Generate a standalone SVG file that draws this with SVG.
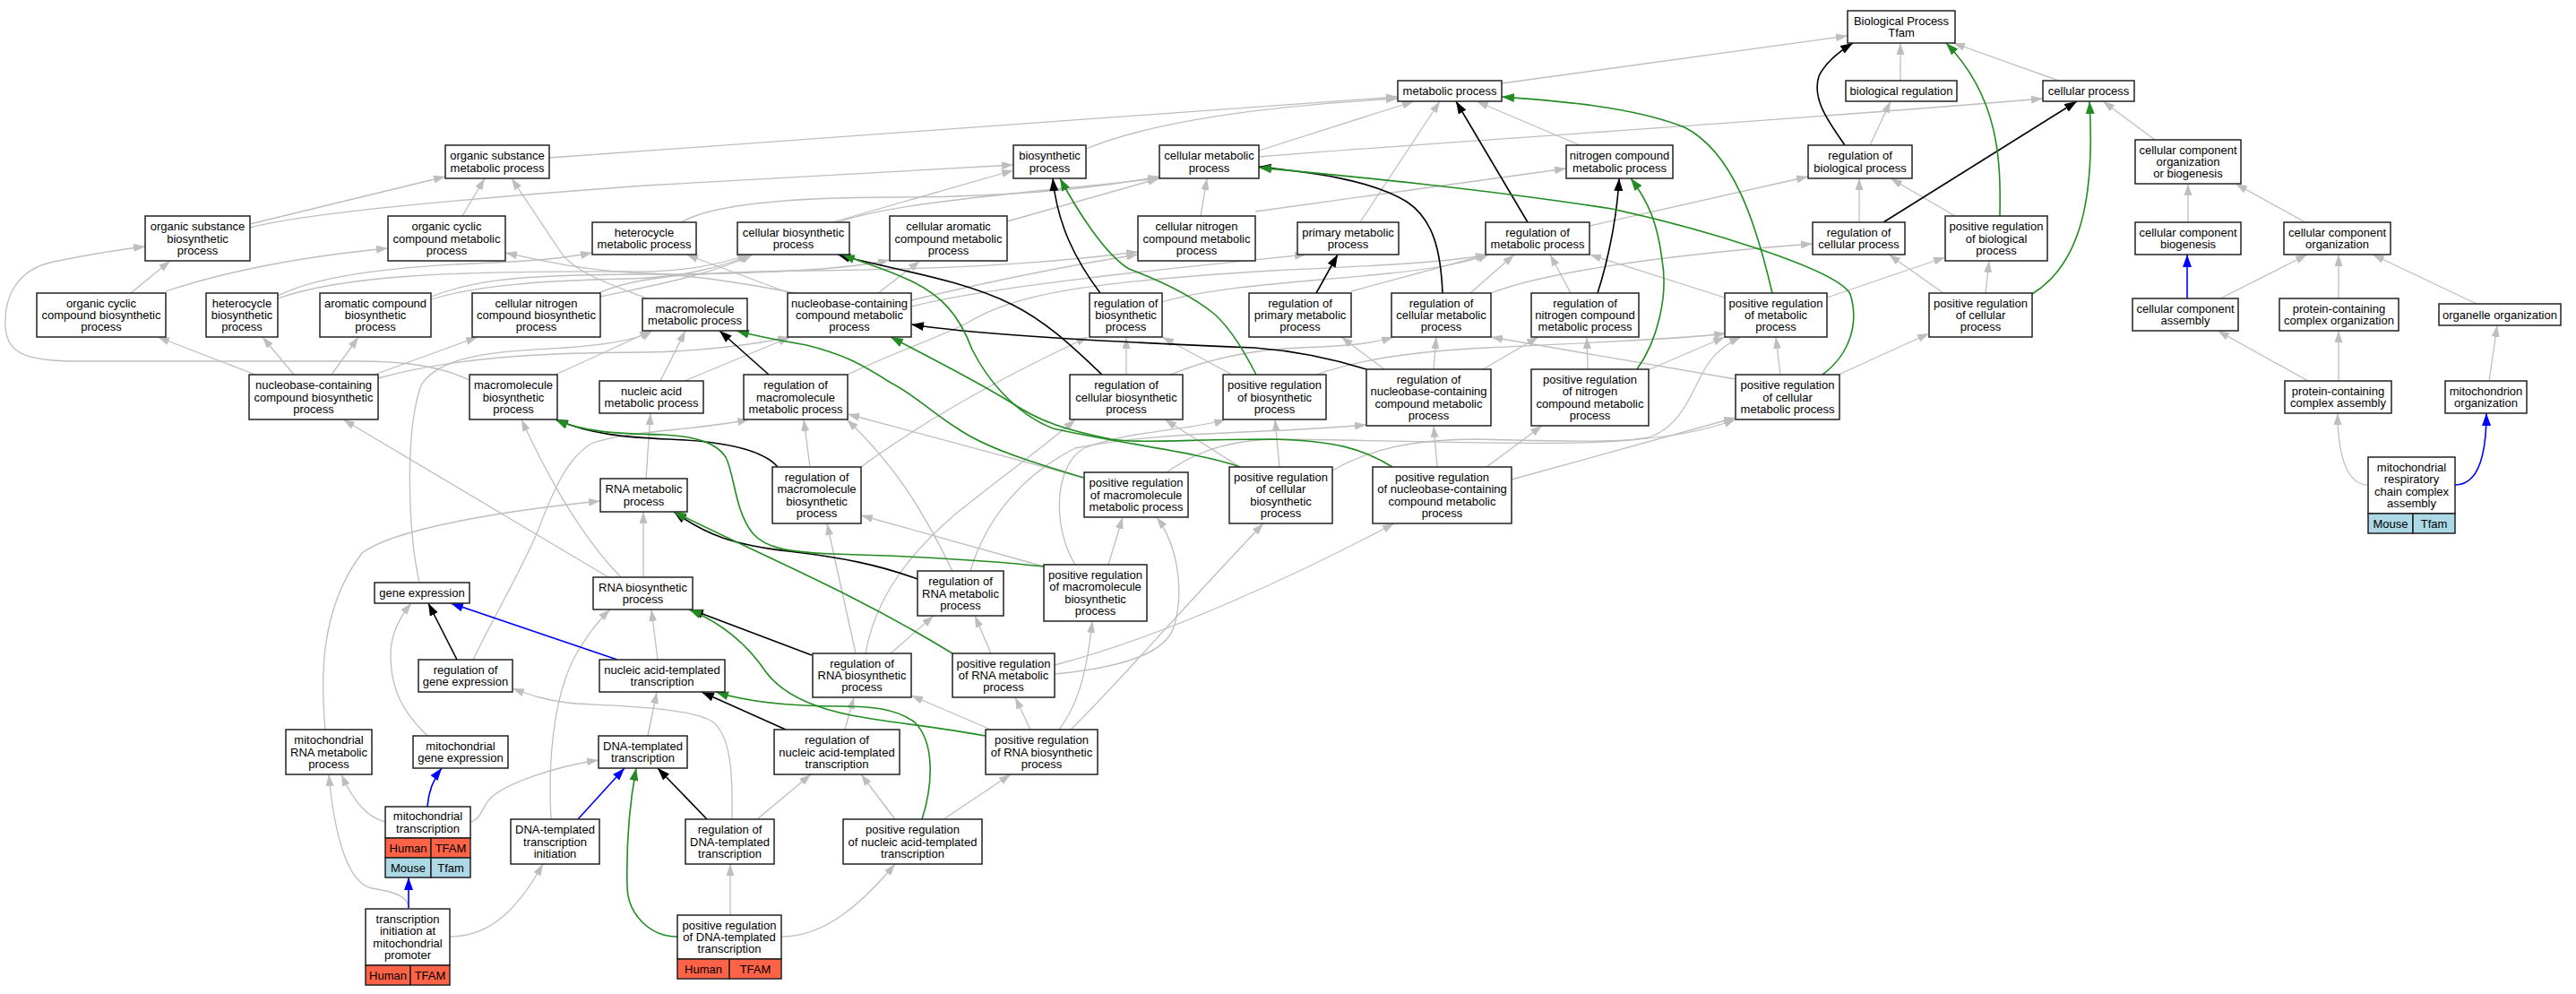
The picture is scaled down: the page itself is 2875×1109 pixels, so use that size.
<svg xmlns="http://www.w3.org/2000/svg" width="2875" height="1109" viewBox="0 0 2875 1109">
<style>
.node rect{fill:#fff;stroke:#222;stroke-width:1.5}
.node rect.hu{fill:#FF6347}
.node rect.mo{fill:#ADD8E6}
.node text{font-family:"Liberation Sans",Arial,Helvetica,sans-serif;font-size:13px;fill:#000;text-anchor:middle}
.e{fill:none}
.g{stroke:#BEBEBE;stroke-width:1.3;marker-end:url(#mg)}
.k{stroke:#000;stroke-width:1.6;marker-end:url(#mk)}
.gr{stroke:#228B22;stroke-width:1.6;marker-end:url(#mgr)}
.b{stroke:#0000FF;stroke-width:1.6;marker-end:url(#mb)}
</style>
<defs>
<marker id="mg" viewBox="0 0 13 9" refX="13" refY="4.5" markerWidth="13" markerHeight="9" markerUnits="userSpaceOnUse" orient="auto"><path d="M0,0L13,4.5L0,9z" fill="#BEBEBE"/></marker>
<marker id="mk" viewBox="0 0 14 10" refX="14" refY="5" markerWidth="14" markerHeight="10" markerUnits="userSpaceOnUse" orient="auto"><path d="M0,0L14,5L0,10z" fill="#000"/></marker>
<marker id="mgr" viewBox="0 0 14 10" refX="14" refY="5" markerWidth="14" markerHeight="10" markerUnits="userSpaceOnUse" orient="auto"><path d="M0,0L14,5L0,10z" fill="#228B22"/></marker>
<marker id="mb" viewBox="0 0 14 10" refX="14" refY="5" markerWidth="14" markerHeight="10" markerUnits="userSpaceOnUse" orient="auto"><path d="M0,0L14,5L0,10z" fill="#0000FF"/></marker>
</defs>
<rect width="2875" height="1109" fill="#fff"/>
<g id="edges" class="e">
<path class="g" d="M1676,93 L2062,40"/>
<path class="g" d="M2121,90 L2121,48"/>
<path class="g" d="M2298,90 L2180,48"/>
<path class="g" d="M2087,162 L2110,113"/>
<path class="g" d="M2405,156 L2347,113"/>
<path class="g" d="M1405,175 C1650,155 1950,138 2280,110"/>
<path class="g" d="M613,176 L1560,108"/>
<path class="g" d="M1212,166 C1300,130 1450,116 1560,110"/>
<path class="g" d="M1405,168 L1578,113"/>
<path class="g" d="M1518,248 L1607,113"/>
<path class="g" d="M1763,162 L1648,113"/>
<path class="g" d="M279,250 L497,197"/>
<path class="g" d="M279,254 Q350,234 720,207 L1131,184"/>
<path class="g" d="M516,241 L541,199"/>
<path class="g" d="M722,333 C690,320 640,305 625,280 L571,199"/>
<path class="g" d="M146,327 L190,291"/>
<path class="g" d="M185,325 C260,300 350,285 433,277"/>
<path class="g" d="M524,424 C490,408 450,403 400,403 L80,403 C30,402 8,395 6,365 C4,330 20,300 60,292 C100,284 135,278 162,275"/>
<path class="g" d="M285,418 L176,376"/>
<path class="g" d="M328,418 L293,376"/>
<path class="g" d="M370,418 L400,376"/>
<path class="g" d="M418,418 L533,376"/>
<path class="g" d="M422,422 C500,400 600,393 720,393 C780,392 840,385 881,376"/>
<path class="g" d="M310,330 C360,305 450,297 550,293 C600,291 630,288 661,282"/>
<path class="g" d="M310,333 C380,308 500,302 700,303 C760,304 800,296 836,284"/>
<path class="g" d="M481,331 C520,316 560,306 720,306 C850,306 950,300 993,290"/>
<path class="g" d="M481,334 C530,319 600,313 700,311 C760,310 810,297 838,284"/>
<path class="g" d="M668,327 C700,313 740,304 900,302 C1100,300 1200,290 1270,281"/>
<path class="g" d="M670,331 C730,318 790,308 840,284"/>
<path class="g" d="M881,327 L766,284"/>
<path class="g" d="M888,327 C820,314 760,306 720,305 C660,303 610,292 564,282"/>
<path class="g" d="M980,327 L1027,291"/>
<path class="g" d="M1017,335 C1100,315 1200,295 1270,284"/>
<path class="g" d="M1017,342 C1100,320 1300,300 1458,284"/>
<path class="g" d="M760,248 C800,225 900,220 1000,220 C1150,220 1250,205 1294,197"/>
<path class="g" d="M929,248 L1131,190"/>
<path class="g" d="M935,248 C1000,225 1150,215 1294,199"/>
<path class="g" d="M1124,247 L1294,199"/>
<path class="g" d="M1340,241 L1347,199"/>
<path class="g" d="M1401,236 L1748,188"/>
<path class="g" d="M620,418 L727,369"/>
<path class="g" d="M468,650 C455,590 452,480 470,430 C490,395 560,392 630,388 C690,384 715,377 728,369"/>
<path class="g" d="M737,425 L765,369"/>
<path class="g" d="M764,425 L882,376"/>
<path class="g" d="M721,534 L726,461"/>
<path class="g" d="M718,644 L718,571"/>
<path class="g" d="M679,644 L383,468"/>
<path class="g" d="M693,644 C650,600 615,540 582,468"/>
<path class="g" d="M363,814 C358,760 356,680 404,617 C440,590 560,570 670,559"/>
<path class="g" d="M477,821 C450,795 436,770 436,730 C436,710 445,690 459,673"/>
<path class="g" d="M430,917 C410,912 395,895 381,864"/>
<path class="g" d="M456,1013 C456,1000 440,995 415,991 C385,985 372,920 367,864"/>
<path class="g" d="M525,917 C535,915 537,905 545,893 C560,875 620,855 668,848"/>
<path class="g" d="M502,1045 C550,1045 580,1010 606,964"/>
<path class="g" d="M615,914 C612,860 615,780 643,730 C655,710 665,695 681,680"/>
<path class="g" d="M734,736 L727,680"/>
<path class="g" d="M723,821 L733,772"/>
<path class="g" d="M528,736 C550,690 580,640 600,593 C620,540 635,510 660,495 C700,480 780,480 836,468"/>
<path class="g" d="M817,914 C818,860 815,820 795,805 C770,790 700,788 643,785 C610,782 590,775 572,768"/>
<path class="g" d="M943,814 L953,778"/>
<path class="g" d="M845,914 L905,864"/>
<path class="g" d="M999,914 L961,864"/>
<path class="g" d="M1053,914 L1128,864"/>
<path class="g" d="M815,1021 L815,964"/>
<path class="g" d="M872,1045 C920,1045 960,1010 999,964"/>
<path class="g" d="M1106,814 L1017,776"/>
<path class="g" d="M1150,814 L1133,778"/>
<path class="g" d="M1182,814 C1200,790 1212,760 1219,693"/>
<path class="g" d="M1195,814 C1250,760 1300,700 1410,584"/>
<path class="g" d="M1106,729 L1088,687"/>
<path class="g" d="M1177,742 C1300,710 1450,640 1556,584"/>
<path class="g" d="M1177,752 C1250,745 1300,730 1310,700 C1322,660 1315,610 1291,577"/>
<path class="g" d="M1237,630 L1253,577"/>
<path class="g" d="M1165,632 L961,575"/>
<path class="g" d="M1200,630 C1175,590 1175,520 1210,500 C1260,480 1330,480 1368,468"/>
<path class="g" d="M1083,637 C1100,580 1140,530 1200,500 C1300,480 1400,485 1525,474"/>
<path class="g" d="M1063,637 C1030,570 1000,520 945,468"/>
<path class="g" d="M994,729 L1042,687"/>
<path class="g" d="M966,729 C975,680 1000,630 1067,573 C1120,530 1170,495 1200,468"/>
<path class="g" d="M955,729 L923,584"/>
<path class="g" d="M904,521 L897,468"/>
<path class="g" d="M961,521 C1030,470 1120,420 1214,376"/>
<path class="g" d="M946,418 C1000,392 1040,380 1080,360 C1130,330 1200,315 1420,302 C1550,296 1620,292 1660,284"/>
<path class="g" d="M1297,337 C1350,320 1450,315 1550,305 C1600,300 1640,292 1662,284"/>
<path class="g" d="M1257,418 L1257,376"/>
<path class="g" d="M1306,418 C1350,400 1400,390 1450,388 C1500,386 1530,384 1555,376"/>
<path class="g" d="M1375,418 L1297,376"/>
<path class="g" d="M1469,418 C1520,400 1580,392 1660,388 C1780,382 1880,378 1926,372"/>
<path class="g" d="M1428,521 L1423,468"/>
<path class="g" d="M1384,521 L1300,468"/>
<path class="g" d="M1487,525 C1530,500 1580,490 1650,490 C1750,492 1850,500 1937,468"/>
<path class="g" d="M1210,533 L946,462"/>
<path class="g" d="M1302,527 C1340,500 1380,490 1430,490 C1600,492 1780,500 1840,488 C1880,475 1890,430 1905,408 C1915,392 1930,382 1943,376"/>
<path class="g" d="M1937,423 L1664,376"/>
<path class="g" d="M1987,418 L1982,376"/>
<path class="g" d="M2052,418 L2153,372"/>
<path class="g" d="M2169,327 L2108,284"/>
<path class="g" d="M2216,327 L2220,291"/>
<path class="g" d="M1925,332 L1774,284"/>
<path class="g" d="M2039,332 L2171,287"/>
<path class="g" d="M2182,241 L2110,199"/>
<path class="g" d="M2075,248 L2075,199"/>
<path class="g" d="M1774,252 L2018,197"/>
<path class="g" d="M1641,327 L1690,284"/>
<path class="g" d="M1664,327 C1720,305 1850,285 2023,272"/>
<path class="g" d="M1753,327 L1730,284"/>
<path class="g" d="M1508,325 L1660,284"/>
<path class="g" d="M1545,412 L1497,376"/>
<path class="g" d="M1600,412 L1603,376"/>
<path class="g" d="M1655,412 L1717,376"/>
<path class="g" d="M1772,412 L1771,376"/>
<path class="g" d="M1839,413 L1925,376"/>
<path class="g" d="M1604,521 L1600,475"/>
<path class="g" d="M1659,521 L1721,475"/>
<path class="g" d="M1687,535 L1937,466"/>
<path class="g" d="M2442,248 L2442,205"/>
<path class="g" d="M2573,248 L2495,205"/>
<path class="g" d="M2478,333 L2575,284"/>
<path class="g" d="M2610,333 L2610,284"/>
<path class="g" d="M2764,339 L2648,284"/>
<path class="g" d="M2576,425 L2475,369"/>
<path class="g" d="M2610,425 L2610,369"/>
<path class="g" d="M2778,425 L2787,363"/>
<path class="g" d="M2643,541 C2620,541 2609,510 2609,461"/>
<path class="k" d="M2059,162 C2040,135 2022,110 2030,85 C2038,68 2055,56 2068,48"/>
<path class="k" d="M2102,248 L2318,113"/>
<path class="k" d="M1705,248 L1625,113"/>
<path class="k" d="M1610,327 C1608,280 1600,245 1570,225 C1530,200 1460,192 1405,186"/>
<path class="k" d="M1783,327 C1795,290 1805,240 1807,199"/>
<path class="k" d="M1469,327 L1493,284"/>
<path class="k" d="M1228,327 C1200,290 1180,250 1175,199"/>
<path class="k" d="M1230,418 C1200,390 1170,360 1130,340 C1070,310 990,300 935,284"/>
<path class="k" d="M1525,412 C1480,398 1440,391 1400,388 C1200,380 1080,372 1017,362"/>
<path class="k" d="M858,418 L803,369"/>
<path class="k" d="M868,521 C850,500 800,492 746,490 C700,488 660,485 620,468"/>
<path class="k" d="M1024,646 C980,630 940,622 880,615 C820,608 790,598 752,571"/>
<path class="k" d="M906,731 L771,680"/>
<path class="k" d="M510,736 L478,673"/>
<path class="k" d="M877,814 L783,772"/>
<path class="k" d="M789,914 L734,857"/>
<path class="gr" d="M2232,241 C2233,180 2232,110 2172,48"/>
<path class="gr" d="M2268,328 C2330,290 2337,200 2332,113"/>
<path class="gr" d="M1978,327 C1960,250 1935,170 1880,142 C1820,118 1730,112 1676,108"/>
<path class="gr" d="M2034,418 C2065,395 2075,360 2065,328 C2050,300 1900,255 1799,233 C1650,210 1500,196 1405,187"/>
<path class="gr" d="M1827,412 C1850,380 1862,330 1855,290 C1850,250 1840,225 1820,199"/>
<path class="gr" d="M1402,418 C1390,395 1375,368 1355,350 C1330,330 1300,315 1260,300 C1235,285 1205,240 1183,199"/>
<path class="gr" d="M1384,521 C1340,505 1250,495 1175,478 C1130,460 1100,420 1085,390 C1070,350 1050,330 1020,315 C990,300 960,292 940,284"/>
<path class="gr" d="M1554,521 C1520,500 1490,492 1420,490 C1330,490 1270,495 1240,490 C1190,480 1160,470 1130,450 C1090,425 1040,400 994,376"/>
<path class="gr" d="M1209,533 C1150,515 1100,500 1067,477 C1040,460 1020,440 994,427 C960,405 940,395 900,385 C860,378 840,374 822,369"/>
<path class="gr" d="M1165,632 C1100,625 1000,620 929,618 C880,616 855,612 840,595 C820,570 820,530 810,510 C800,495 780,487 740,485 C690,484 650,482 620,468"/>
<path class="gr" d="M1063,729 C950,660 850,620 752,571"/>
<path class="gr" d="M1100,821 C1040,810 990,806 950,798 C900,788 870,770 855,750 C835,720 805,695 769,680"/>
<path class="gr" d="M1029,914 C1040,880 1045,830 1021,806 C1000,790 970,788 940,788 C880,788 830,782 799,772"/>
<path class="gr" d="M756,1045 C725,1045 701,1020 700,990 C699,950 702,900 710,857"/>
<path class="b" d="M689,736 L503,673"/>
<path class="b" d="M477,900 C478,885 483,870 493,857"/>
<path class="b" d="M456,1013 L456,979"/>
<path class="b" d="M645,914 L697,857"/>
<path class="b" d="M2441,333 L2441,284"/>
<path class="b" d="M2740,541 C2765,541 2775,510 2775,461"/>
</g>
<g id="n-BP" class="node"><rect x="2062" y="12" width="120" height="36"/><text x="2122" y="27.9"><tspan x="2122">Biological Process</tspan><tspan x="2122" dy="13.3">Tfam</tspan></text></g>
<g id="n-BR" class="node"><rect x="2060" y="90" width="124" height="23"/><text x="2122" y="106">biological regulation</text></g>
<g id="n-CP" class="node"><rect x="2280" y="90" width="102" height="23"/><text x="2331" y="106">cellular process</text></g>
<g id="n-MP" class="node"><rect x="1560" y="90" width="116" height="23"/><text x="1618" y="106">metabolic process</text></g>
<g id="n-OSMP" class="node"><rect x="497" y="162" width="116" height="37"/><text x="555" y="178.4"><tspan x="555">organic substance</tspan><tspan x="555" dy="13.3">metabolic process</tspan></text></g>
<g id="n-BSP" class="node"><rect x="1131" y="162" width="81" height="37"/><text x="1171.5" y="178.4"><tspan x="1171.5">biosynthetic</tspan><tspan x="1171.5" dy="13.3">process</tspan></text></g>
<g id="n-CMP" class="node"><rect x="1294" y="162" width="111" height="37"/><text x="1349.5" y="178.4"><tspan x="1349.5">cellular metabolic</tspan><tspan x="1349.5" dy="13.3">process</tspan></text></g>
<g id="n-NCMP" class="node"><rect x="1748" y="162" width="119" height="37"/><text x="1807.5" y="178.4"><tspan x="1807.5">nitrogen compound</tspan><tspan x="1807.5" dy="13.3">metabolic process</tspan></text></g>
<g id="n-RBP" class="node"><rect x="2018" y="162" width="116" height="37"/><text x="2076" y="178.4"><tspan x="2076">regulation of</tspan><tspan x="2076" dy="13.3">biological process</tspan></text></g>
<g id="n-CCOB" class="node"><rect x="2383" y="156" width="118" height="49"/><text x="2442" y="171.7"><tspan x="2442">cellular component</tspan><tspan x="2442" dy="13.3">organization</tspan><tspan x="2442" dy="13.3">or biogenesis</tspan></text></g>
<g id="n-OSBP" class="node"><rect x="162" y="241" width="117" height="50"/><text x="220.5" y="257.2"><tspan x="220.5">organic substance</tspan><tspan x="220.5" dy="13.3">biosynthetic</tspan><tspan x="220.5" dy="13.3">process</tspan></text></g>
<g id="n-OCCMP" class="node"><rect x="433" y="241" width="131" height="50"/><text x="498.5" y="257.2"><tspan x="498.5">organic cyclic</tspan><tspan x="498.5" dy="13.3">compound metabolic</tspan><tspan x="498.5" dy="13.3">process</tspan></text></g>
<g id="n-HMP" class="node"><rect x="661" y="248" width="116" height="36"/><text x="719" y="263.9"><tspan x="719">heterocycle</tspan><tspan x="719" dy="13.3">metabolic process</tspan></text></g>
<g id="n-CBP" class="node"><rect x="823" y="248" width="125" height="36"/><text x="885.5" y="263.9"><tspan x="885.5">cellular biosynthetic</tspan><tspan x="885.5" dy="13.3">process</tspan></text></g>
<g id="n-CACMP" class="node"><rect x="993" y="241" width="131" height="50"/><text x="1058.5" y="257.2"><tspan x="1058.5">cellular aromatic</tspan><tspan x="1058.5" dy="13.3">compound metabolic</tspan><tspan x="1058.5" dy="13.3">process</tspan></text></g>
<g id="n-CNCMP" class="node"><rect x="1270" y="241" width="131" height="50"/><text x="1335.5" y="257.2"><tspan x="1335.5">cellular nitrogen</tspan><tspan x="1335.5" dy="13.3">compound metabolic</tspan><tspan x="1335.5" dy="13.3">process</tspan></text></g>
<g id="n-PMP" class="node"><rect x="1448" y="248" width="113" height="36"/><text x="1504.5" y="263.9"><tspan x="1504.5">primary metabolic</tspan><tspan x="1504.5" dy="13.3">process</tspan></text></g>
<g id="n-RMP" class="node"><rect x="1658" y="248" width="116" height="36"/><text x="1716" y="263.9"><tspan x="1716">regulation of</tspan><tspan x="1716" dy="13.3">metabolic process</tspan></text></g>
<g id="n-RCP" class="node"><rect x="2023" y="248" width="103" height="36"/><text x="2074.5" y="263.9"><tspan x="2074.5">regulation of</tspan><tspan x="2074.5" dy="13.3">cellular process</tspan></text></g>
<g id="n-PRBP" class="node"><rect x="2171" y="241" width="114" height="50"/><text x="2228" y="257.2"><tspan x="2228">positive regulation</tspan><tspan x="2228" dy="13.3">of biological</tspan><tspan x="2228" dy="13.3">process</tspan></text></g>
<g id="n-CCB" class="node"><rect x="2383" y="248" width="118" height="36"/><text x="2442" y="263.9"><tspan x="2442">cellular component</tspan><tspan x="2442" dy="13.3">biogenesis</tspan></text></g>
<g id="n-CCO" class="node"><rect x="2549" y="248" width="119" height="36"/><text x="2608.5" y="263.9"><tspan x="2608.5">cellular component</tspan><tspan x="2608.5" dy="13.3">organization</tspan></text></g>
<g id="n-OCCBP" class="node"><rect x="41" y="327" width="144" height="49"/><text x="113" y="342.7"><tspan x="113">organic cyclic</tspan><tspan x="113" dy="13.3">compound biosynthetic</tspan><tspan x="113" dy="13.3">process</tspan></text></g>
<g id="n-HBP" class="node"><rect x="230" y="327" width="80" height="49"/><text x="270" y="342.7"><tspan x="270">heterocycle</tspan><tspan x="270" dy="13.3">biosynthetic</tspan><tspan x="270" dy="13.3">process</tspan></text></g>
<g id="n-ACBP" class="node"><rect x="357" y="327" width="124" height="49"/><text x="419" y="342.7"><tspan x="419">aromatic compound</tspan><tspan x="419" dy="13.3">biosynthetic</tspan><tspan x="419" dy="13.3">process</tspan></text></g>
<g id="n-CNCBP" class="node"><rect x="527" y="327" width="143" height="49"/><text x="598.5" y="342.7"><tspan x="598.5">cellular nitrogen</tspan><tspan x="598.5" dy="13.3">compound biosynthetic</tspan><tspan x="598.5" dy="13.3">process</tspan></text></g>
<g id="n-MMP" class="node"><rect x="717" y="333" width="117" height="36"/><text x="775.5" y="348.9"><tspan x="775.5">macromolecule</tspan><tspan x="775.5" dy="13.3">metabolic process</tspan></text></g>
<g id="n-NCCMP" class="node"><rect x="879" y="327" width="138" height="49"/><text x="948" y="342.7"><tspan x="948">nucleobase-containing</tspan><tspan x="948" dy="13.3">compound metabolic</tspan><tspan x="948" dy="13.3">process</tspan></text></g>
<g id="n-RBSP" class="node"><rect x="1216" y="327" width="81" height="49"/><text x="1256.5" y="342.7"><tspan x="1256.5">regulation of</tspan><tspan x="1256.5" dy="13.3">biosynthetic</tspan><tspan x="1256.5" dy="13.3">process</tspan></text></g>
<g id="n-RPMP" class="node"><rect x="1394" y="327" width="114" height="49"/><text x="1451" y="342.7"><tspan x="1451">regulation of</tspan><tspan x="1451" dy="13.3">primary metabolic</tspan><tspan x="1451" dy="13.3">process</tspan></text></g>
<g id="n-RCMP" class="node"><rect x="1553" y="327" width="111" height="49"/><text x="1608.5" y="342.7"><tspan x="1608.5">regulation of</tspan><tspan x="1608.5" dy="13.3">cellular metabolic</tspan><tspan x="1608.5" dy="13.3">process</tspan></text></g>
<g id="n-RNCMP" class="node"><rect x="1709" y="327" width="120" height="49"/><text x="1769" y="342.7"><tspan x="1769">regulation of</tspan><tspan x="1769" dy="13.3">nitrogen compound</tspan><tspan x="1769" dy="13.3">metabolic process</tspan></text></g>
<g id="n-PRMP" class="node"><rect x="1925" y="327" width="114" height="49"/><text x="1982" y="342.7"><tspan x="1982">positive regulation</tspan><tspan x="1982" dy="13.3">of metabolic</tspan><tspan x="1982" dy="13.3">process</tspan></text></g>
<g id="n-PRCP" class="node"><rect x="2153" y="327" width="115" height="49"/><text x="2210.5" y="342.7"><tspan x="2210.5">positive regulation</tspan><tspan x="2210.5" dy="13.3">of cellular</tspan><tspan x="2210.5" dy="13.3">process</tspan></text></g>
<g id="n-CCA" class="node"><rect x="2380" y="333" width="118" height="36"/><text x="2439" y="348.9"><tspan x="2439">cellular component</tspan><tspan x="2439" dy="13.3">assembly</tspan></text></g>
<g id="n-PCCO" class="node"><rect x="2544" y="333" width="133" height="36"/><text x="2610.5" y="348.9"><tspan x="2610.5">protein-containing</tspan><tspan x="2610.5" dy="13.3">complex organization</tspan></text></g>
<g id="n-OO" class="node"><rect x="2722" y="339" width="136" height="24"/><text x="2790" y="355.5">organelle organization</text></g>
<g id="n-NCCBP" class="node"><rect x="278" y="418" width="144" height="50"/><text x="350" y="434.2"><tspan x="350">nucleobase-containing</tspan><tspan x="350" dy="13.3">compound biosynthetic</tspan><tspan x="350" dy="13.3">process</tspan></text></g>
<g id="n-MBP" class="node"><rect x="524" y="418" width="98" height="50"/><text x="573" y="434.2"><tspan x="573">macromolecule</tspan><tspan x="573" dy="13.3">biosynthetic</tspan><tspan x="573" dy="13.3">process</tspan></text></g>
<g id="n-NAMP" class="node"><rect x="669" y="425" width="116" height="36"/><text x="727" y="440.9"><tspan x="727">nucleic acid</tspan><tspan x="727" dy="13.3">metabolic process</tspan></text></g>
<g id="n-RMMP" class="node"><rect x="830" y="418" width="116" height="50"/><text x="888" y="434.2"><tspan x="888">regulation of</tspan><tspan x="888" dy="13.3">macromolecule</tspan><tspan x="888" dy="13.3">metabolic process</tspan></text></g>
<g id="n-RCBP" class="node"><rect x="1194" y="418" width="126" height="50"/><text x="1257" y="434.2"><tspan x="1257">regulation of</tspan><tspan x="1257" dy="13.3">cellular biosynthetic</tspan><tspan x="1257" dy="13.3">process</tspan></text></g>
<g id="n-PRBSP" class="node"><rect x="1365" y="418" width="115" height="50"/><text x="1422.5" y="434.2"><tspan x="1422.5">positive regulation</tspan><tspan x="1422.5" dy="13.3">of biosynthetic</tspan><tspan x="1422.5" dy="13.3">process</tspan></text></g>
<g id="n-RNCCMP" class="node"><rect x="1525" y="412" width="139" height="63"/><text x="1594.5" y="428.1"><tspan x="1594.5">regulation of</tspan><tspan x="1594.5" dy="13.3">nucleobase-containing</tspan><tspan x="1594.5" dy="13.3">compound metabolic</tspan><tspan x="1594.5" dy="13.3">process</tspan></text></g>
<g id="n-PRNCMP" class="node"><rect x="1709" y="412" width="131" height="63"/><text x="1774.5" y="428.1"><tspan x="1774.5">positive regulation</tspan><tspan x="1774.5" dy="13.3">of nitrogen</tspan><tspan x="1774.5" dy="13.3">compound metabolic</tspan><tspan x="1774.5" dy="13.3">process</tspan></text></g>
<g id="n-PRCMP" class="node"><rect x="1937" y="418" width="116" height="50"/><text x="1995" y="434.2"><tspan x="1995">positive regulation</tspan><tspan x="1995" dy="13.3">of cellular</tspan><tspan x="1995" dy="13.3">metabolic process</tspan></text></g>
<g id="n-PCCA" class="node"><rect x="2550" y="425" width="119" height="36"/><text x="2609.5" y="440.9"><tspan x="2609.5">protein-containing</tspan><tspan x="2609.5" dy="13.3">complex assembly</tspan></text></g>
<g id="n-MO" class="node"><rect x="2729" y="425" width="91" height="36"/><text x="2774.5" y="440.9"><tspan x="2774.5">mitochondrion</tspan><tspan x="2774.5" dy="13.3">organization</tspan></text></g>
<g id="n-RNAMP" class="node"><rect x="670" y="534" width="97" height="37"/><text x="718.5" y="550.4"><tspan x="718.5">RNA metabolic</tspan><tspan x="718.5" dy="13.3">process</tspan></text></g>
<g id="n-RMBP" class="node"><rect x="862" y="521" width="99" height="63"/><text x="911.5" y="537.1"><tspan x="911.5">regulation of</tspan><tspan x="911.5" dy="13.3">macromolecule</tspan><tspan x="911.5" dy="13.3">biosynthetic</tspan><tspan x="911.5" dy="13.3">process</tspan></text></g>
<g id="n-PRMMP" class="node"><rect x="1210" y="527" width="116" height="50"/><text x="1268" y="543.2"><tspan x="1268">positive regulation</tspan><tspan x="1268" dy="13.3">of macromolecule</tspan><tspan x="1268" dy="13.3">metabolic process</tspan></text></g>
<g id="n-PRCBP" class="node"><rect x="1372" y="521" width="115" height="63"/><text x="1429.5" y="537.1"><tspan x="1429.5">positive regulation</tspan><tspan x="1429.5" dy="13.3">of cellular</tspan><tspan x="1429.5" dy="13.3">biosynthetic</tspan><tspan x="1429.5" dy="13.3">process</tspan></text></g>
<g id="n-PRNCCMP" class="node"><rect x="1532" y="521" width="155" height="63"/><text x="1609.5" y="537.1"><tspan x="1609.5">positive regulation</tspan><tspan x="1609.5" dy="13.3">of nucleobase-containing</tspan><tspan x="1609.5" dy="13.3">compound metabolic</tspan><tspan x="1609.5" dy="13.3">process</tspan></text></g>
<g id="n-MRCCA" class="node"><rect x="2643" y="510" width="97" height="63"/><rect class="mo" x="2643" y="573" width="50" height="22"/><rect class="mo" x="2693" y="573" width="47" height="22"/><text x="2691.5" y="526.1"><tspan x="2691.5">mitochondrial</tspan><tspan x="2691.5" dy="13.3">respiratory</tspan><tspan x="2691.5" dy="13.3">chain complex</tspan><tspan x="2691.5" dy="13.3">assembly</tspan></text><text x="2668" y="588.5">Mouse</text><text x="2716.5" y="588.5">Tfam</text></g>
<g id="n-GE" class="node"><rect x="418" y="650" width="106" height="23"/><text x="471" y="666">gene expression</text></g>
<g id="n-RNABP" class="node"><rect x="662" y="644" width="111" height="36"/><text x="717.5" y="659.9"><tspan x="717.5">RNA biosynthetic</tspan><tspan x="717.5" dy="13.3">process</tspan></text></g>
<g id="n-RRNAMP" class="node"><rect x="1024" y="637" width="96" height="50"/><text x="1072" y="653.2"><tspan x="1072">regulation of</tspan><tspan x="1072" dy="13.3">RNA metabolic</tspan><tspan x="1072" dy="13.3">process</tspan></text></g>
<g id="n-PRMBP" class="node"><rect x="1165" y="630" width="115" height="63"/><text x="1222.5" y="646.1"><tspan x="1222.5">positive regulation</tspan><tspan x="1222.5" dy="13.3">of macromolecule</tspan><tspan x="1222.5" dy="13.3">biosynthetic</tspan><tspan x="1222.5" dy="13.3">process</tspan></text></g>
<g id="n-RGE" class="node"><rect x="467" y="736" width="105" height="36"/><text x="519.5" y="751.9"><tspan x="519.5">regulation of</tspan><tspan x="519.5" dy="13.3">gene expression</tspan></text></g>
<g id="n-NATT" class="node"><rect x="669" y="736" width="140" height="36"/><text x="739" y="751.9"><tspan x="739">nucleic acid-templated</tspan><tspan x="739" dy="13.3">transcription</tspan></text></g>
<g id="n-RRNABP" class="node"><rect x="907" y="729" width="110" height="49"/><text x="962" y="744.7"><tspan x="962">regulation of</tspan><tspan x="962" dy="13.3">RNA biosynthetic</tspan><tspan x="962" dy="13.3">process</tspan></text></g>
<g id="n-PRRNAMP" class="node"><rect x="1063" y="729" width="114" height="49"/><text x="1120" y="744.7"><tspan x="1120">positive regulation</tspan><tspan x="1120" dy="13.3">of RNA metabolic</tspan><tspan x="1120" dy="13.3">process</tspan></text></g>
<g id="n-MRNAMP" class="node"><rect x="319" y="814" width="96" height="50"/><text x="367" y="830.2"><tspan x="367">mitochondrial</tspan><tspan x="367" dy="13.3">RNA metabolic</tspan><tspan x="367" dy="13.3">process</tspan></text></g>
<g id="n-MGE" class="node"><rect x="461" y="821" width="106" height="36"/><text x="514" y="836.9"><tspan x="514">mitochondrial</tspan><tspan x="514" dy="13.3">gene expression</tspan></text></g>
<g id="n-DTT" class="node"><rect x="668" y="821" width="99" height="36"/><text x="717.5" y="836.9"><tspan x="717.5">DNA-templated</tspan><tspan x="717.5" dy="13.3">transcription</tspan></text></g>
<g id="n-RNATT" class="node"><rect x="864" y="814" width="140" height="50"/><text x="934" y="830.2"><tspan x="934">regulation of</tspan><tspan x="934" dy="13.3">nucleic acid-templated</tspan><tspan x="934" dy="13.3">transcription</tspan></text></g>
<g id="n-PRRNABP" class="node"><rect x="1100" y="814" width="125" height="50"/><text x="1162.5" y="830.2"><tspan x="1162.5">positive regulation</tspan><tspan x="1162.5" dy="13.3">of RNA biosynthetic</tspan><tspan x="1162.5" dy="13.3">process</tspan></text></g>
<g id="n-MT" class="node"><rect x="430" y="900" width="95" height="35"/><rect class="hu" x="430" y="935" width="51" height="22"/><rect class="hu" x="481" y="935" width="44" height="22"/><rect class="mo" x="430" y="957" width="51" height="22"/><rect class="mo" x="481" y="957" width="44" height="22"/><text x="477.5" y="915.4"><tspan x="477.5">mitochondrial</tspan><tspan x="477.5" dy="13.3">transcription</tspan></text><text x="455.5" y="950.5">Human</text><text x="503" y="950.5">TFAM</text><text x="455.5" y="972.5">Mouse</text><text x="503" y="972.5">Tfam</text></g>
<g id="n-DTTI" class="node"><rect x="570" y="914" width="99" height="50"/><text x="619.5" y="930.2"><tspan x="619.5">DNA-templated</tspan><tspan x="619.5" dy="13.3">transcription</tspan><tspan x="619.5" dy="13.3">initiation</tspan></text></g>
<g id="n-RDTT" class="node"><rect x="765" y="914" width="99" height="50"/><text x="814.5" y="930.2"><tspan x="814.5">regulation of</tspan><tspan x="814.5" dy="13.3">DNA-templated</tspan><tspan x="814.5" dy="13.3">transcription</tspan></text></g>
<g id="n-PRNATT" class="node"><rect x="941" y="914" width="155" height="50"/><text x="1018.5" y="930.2"><tspan x="1018.5">positive regulation</tspan><tspan x="1018.5" dy="13.3">of nucleic acid-templated</tspan><tspan x="1018.5" dy="13.3">transcription</tspan></text></g>
<g id="n-TIMP" class="node"><rect x="408" y="1014" width="94" height="63"/><rect class="hu" x="408" y="1077" width="50" height="22"/><rect class="hu" x="458" y="1077" width="44" height="22"/><text x="455" y="1030.1"><tspan x="455">transcription</tspan><tspan x="455" dy="13.3">initiation at</tspan><tspan x="455" dy="13.3">mitochondrial</tspan><tspan x="455" dy="13.3">promoter</tspan></text><text x="433" y="1092.5">Human</text><text x="480" y="1092.5">TFAM</text></g>
<g id="n-PRDTT" class="node"><rect x="756" y="1021" width="116" height="49"/><rect class="hu" x="756" y="1070" width="58" height="22"/><rect class="hu" x="814" y="1070" width="58" height="22"/><text x="814" y="1036.7"><tspan x="814">positive regulation</tspan><tspan x="814" dy="13.3">of DNA-templated</tspan><tspan x="814" dy="13.3">transcription</tspan></text><text x="785" y="1085.5">Human</text><text x="843" y="1085.5">TFAM</text></g>
</svg>
